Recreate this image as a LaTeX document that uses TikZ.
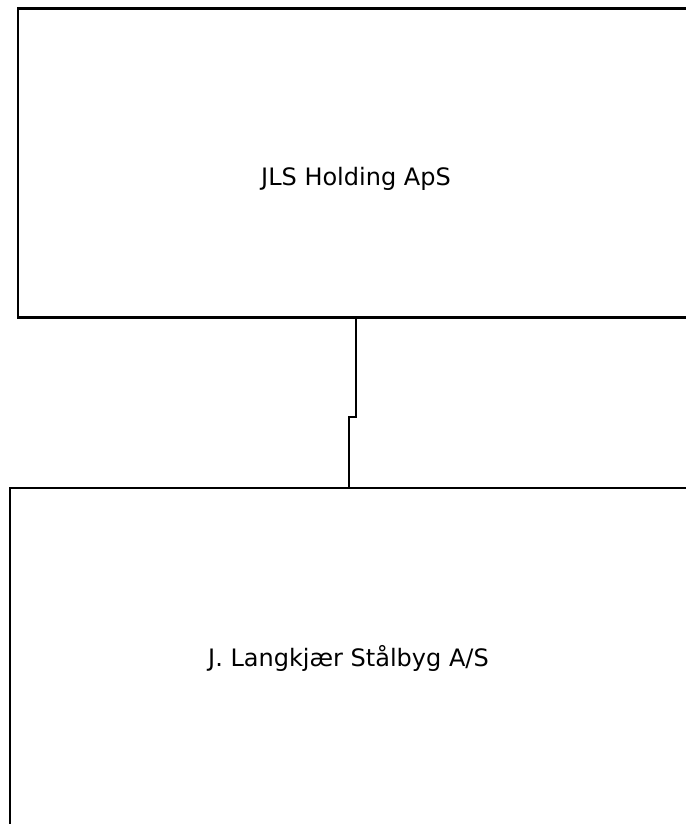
\documentclass[tikz,border=0pt]{standalone}
\usepackage{fontspec}
\setmainfont{DejaVu Sans}
\usetikzlibrary{positioning}

\begin{document}
\begin{tikzpicture}[
  x=0.75pt,y=-0.75pt,
  orgbox/.style={draw=black,line width=1.8pt,fill=white,inner sep=0pt},
  link/.style={draw=black,line width=1.5pt},
  orglabel/.style={font=\fontsize{18}{21}\selectfont,anchor=base,inner sep=0pt}
]
\useasboundingbox (0,0) rectangle (685,824);
\node[orgbox,minimum width=507pt,minimum height=231.75pt] (holding) at (356,163) {};
\node[orgbox,minimum width=507.75pt,minimum height=255pt] (staalbyg) at (348.5,658) {};
\node[orglabel] (holdinglbl) at (356,185) {JLS Holding ApS};
\node[orglabel] (staalbyglbl) at (348.5,666) {J. Langkjær Stålbyg A/S};

\coordinate (jog) at (348.5,416.5);
\draw[link] (holding.south) |- (jog) -- (staalbyg.north);
\end{tikzpicture}
\end{document}
